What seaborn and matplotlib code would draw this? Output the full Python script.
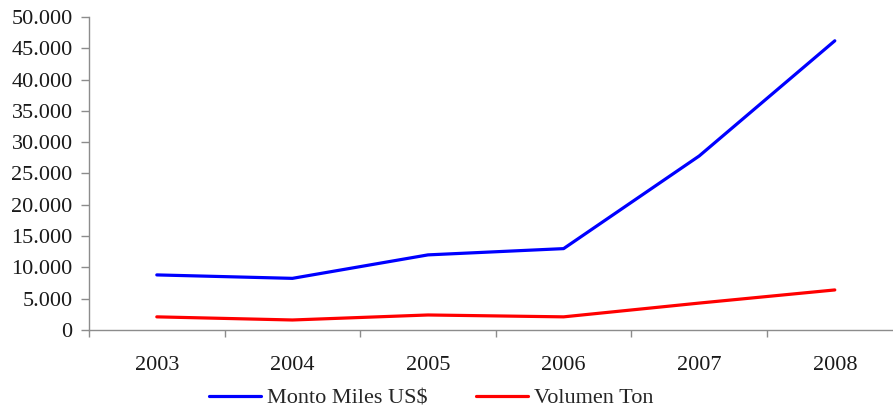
import matplotlib
matplotlib.use("Agg")
import matplotlib.pyplot as plt
import seaborn as sns
import pandas as pd
from matplotlib.ticker import FixedLocator, FuncFormatter

years = ["2003", "2004", "2005", "2006", "2007", "2008"]
monto = [8800, 8250, 12000, 13000, 27800, 46200]
volumen = [2100, 1600, 2400, 2100, 4300, 6400]
series_names = ["Monto Miles US$", "Volumen Ton"]
colors = ["#0000FF", "#FF0000"]

df = pd.DataFrame({
    "year": years * 2,
    "value": monto + volumen,
    "serie": [series_names[0]] * len(years) + [series_names[1]] * len(years),
})

sns.set_style("white")
plt.rcParams["font.family"] = ["Liberation Serif", "DejaVu Serif"]

fig = plt.figure(figsize=(8.93, 4.09), dpi=100)
ax = fig.add_axes([89 / 893, 79 / 409, 813.6 / 893, 313 / 409])

sns.lineplot(data=df, x="year", y="value", hue="serie",
             palette=dict(zip(series_names, colors)), linewidth=2.3,
             ax=ax, legend=True)

ax.set_xlim(-0.5, 5.5)
ax.set_ylim(0, 50000)
ax.set_xlabel("")
ax.set_ylabel("")

gray = "#8c8c8c"
for s in ["top", "right"]:
    ax.spines[s].set_visible(False)
for s in ["left", "bottom"]:
    ax.spines[s].set_color(gray)
    ax.spines[s].set_linewidth(1.0)

ax.yaxis.set_major_locator(FixedLocator(range(0, 50001, 5000)))
ax.yaxis.set_major_formatter(FuncFormatter(lambda v, p: f"{int(v):,}".replace(",", ".")))
ax.tick_params(axis="y", direction="out", length=5.8, color=gray, width=1,
               labelsize=16, labelcolor="#1a1a1a", pad=6, left=True)

ax.xaxis.set_major_locator(FixedLocator([i - 0.5 for i in range(len(years) + 1)]))
ax.xaxis.set_major_formatter(FuncFormatter(lambda v, p: ""))
ax.set_xticks(range(len(years)), labels=years, minor=True)
ax.tick_params(axis="x", which="major", direction="out", length=5, color=gray, width=1, bottom=True)
ax.tick_params(axis="x", which="minor", length=0, labelsize=16, labelcolor="#1a1a1a", pad=19)

handles, labels = ax.get_legend_handles_labels()
ax.get_legend().remove()
fig.legend(handles, labels, loc="center", bbox_to_anchor=(431 / 893, 1 - 398 / 409),
           ncol=2, frameon=False, fontsize=16, handlelength=2.34, handletextpad=0.25,
           columnspacing=2.2, borderpad=0)

fig.savefig("out.png", dpi=100)
